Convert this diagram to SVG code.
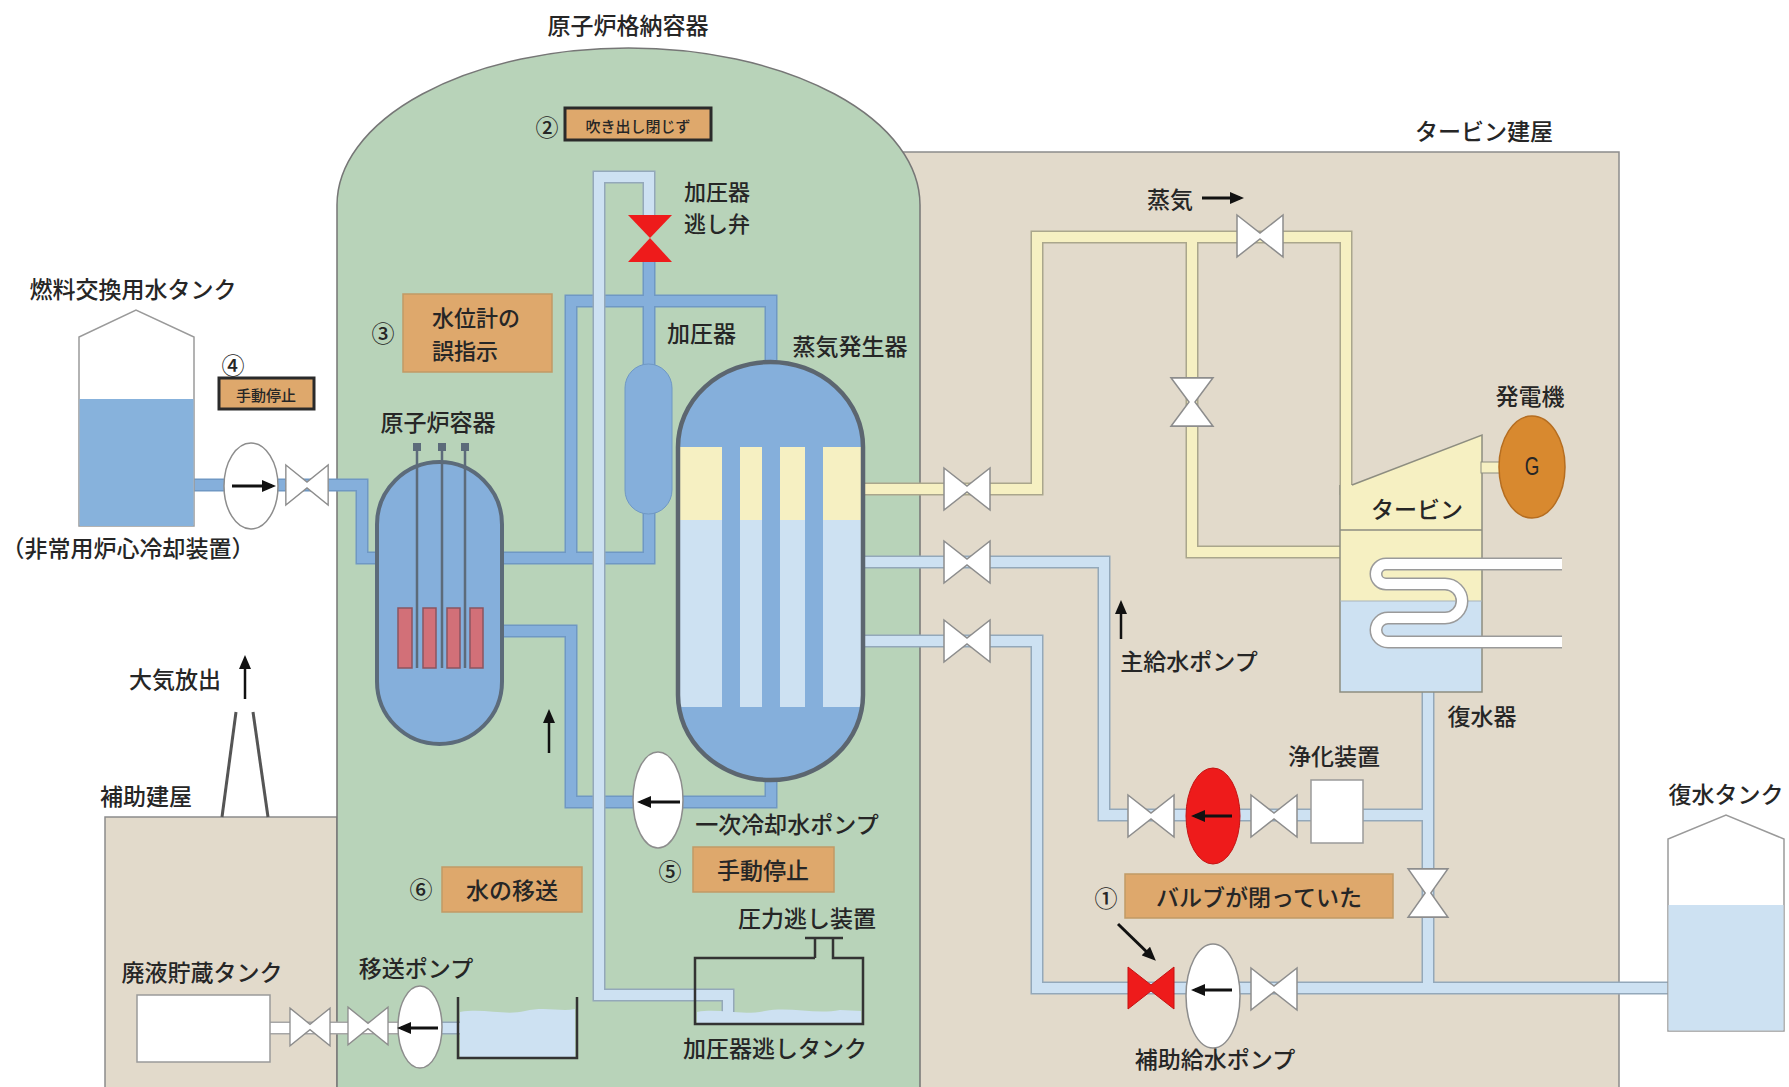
<svg xmlns="http://www.w3.org/2000/svg" width="1789" height="1087" viewBox="0 0 1789 1087">
<defs>
<style>
.t{font-family:"Noto Sans CJK JP","Noto Sans CJK SC",sans-serif;font-size:23px;font-weight:500;fill:#262626;text-anchor:middle;dominant-baseline:central}
.ts{font-size:15px}
.tm{font-size:22px}
.tl{text-anchor:start}
.bldg{fill:#e2dacb;stroke:#8c8c8c;stroke-width:1.5}
.box{fill:#dea86c;stroke:#c19a66;stroke-width:1.5}
.boxd{fill:#dea86c;stroke:#2a2a2a;stroke-width:3}
.po{fill:none;stroke-width:13}
.pf{fill:none;stroke-width:10}
.mb-o{stroke:#6f98c4}.mb{stroke:#85afdb}
.lb-o{stroke:#93a8ba}.lb{stroke:#cde1f2}
.yl-o{stroke:#aaa68c}.yl{stroke:#f6f0c2}
.wh-o{stroke:#a6a6a6}.wh{stroke:#ffffff}
.valve{fill:#fff;stroke:#8d8d8d;stroke-width:1.5}
.valve-red{fill:#ee1b1b;stroke:#c41212;stroke-width:1}
.pump{fill:#fff;stroke:#8d8d8d;stroke-width:1.5}
.arr{stroke:#111;stroke-width:3;fill:none;marker-end:url(#ah)}
.arr2{stroke:#111;stroke-width:2.5;fill:none;marker-end:url(#ah)}
.wall{fill:none;stroke:#333;stroke-width:2.5}
</style>
<marker id="ah" markerUnits="userSpaceOnUse" viewBox="0 0 14 12" refX="10" refY="6" markerWidth="14" markerHeight="12" orient="auto"><path d="M0,0 L14,6 L0,12 z" fill="#111"/></marker>
<polygon id="valveShape" points="-23,-21 0,-3 23,-21 23,21 0,3 -23,21"/>
<clipPath id="sgClip"><path d="M678,447 A92.5,85 0 0 1 863,447 V695 A92.5,85 0 0 1 678,695 Z"/></clipPath>
</defs>

<rect width="1789" height="1087" fill="#ffffff"/>

<!-- buildings -->
<g id="turbine-building">
<rect class="bldg" x="880" y="152" width="739" height="945"/>
<text class="t" x="1484" y="130">タービン建屋</text>
</g>
<g id="auxiliary-building">
<rect class="bldg" x="105" y="817" width="232" height="280"/>
<line x1="222" y1="817" x2="236" y2="712" stroke="#555" stroke-width="3"/>
<line x1="268" y1="817" x2="253" y2="712" stroke="#555" stroke-width="3"/>
<text class="t" x="146" y="795">補助建屋</text>
<text class="t" x="175" y="678">大気放出</text>
<path class="arr2" d="M245,699 V659"/>
</g>
<g id="containment">
<path d="M337,1097 V205 A291.5,157 0 0 1 920,205 V1097 Z" fill="#b8d3b9" stroke="#767676" stroke-width="1.5"/>
<text class="t" x="628" y="24">原子炉格納容器</text>
</g>

<!-- piping -->
<g id="connectors">
<g class="mb-o">
<path class="po" d="M192,485 H362 V558 H400"/>
<path class="po" d="M480,558 H649 V500"/>
<path class="po" d="M571,558 V301 H771 V390"/>
<path class="po" d="M480,631 H571 V802 H771 V760"/>
<path class="po" d="M649,380 V250"/>
</g>
<g class="mb">
<path class="pf" d="M192,485 H362 V558 H400"/>
<path class="pf" d="M480,558 H649 V500"/>
<path class="pf" d="M571,558 V301 H771 V390"/>
<path class="pf" d="M480,631 H571 V802 H771 V760"/>
<path class="pf" d="M649,380 V250"/>
</g>
<g class="lb-o">
<path class="po" d="M649,225 V177 H599 V995 H728 V1018"/>
<path class="po" d="M860,562 H1104 V815 H1428"/>
<path class="po" d="M1428,680 V988"/>
<path class="po" d="M1668,988 H1037 V641 H860"/>
<path class="po" d="M420,1028 H470"/>
</g>
<g class="lb">
<path class="pf" d="M649,225 V177 H599 V995 H728 V1018"/>
<path class="pf" d="M860,562 H1104 V815 H1428"/>
<path class="pf" d="M1428,680 V988"/>
<path class="pf" d="M1668,988 H1037 V641 H860"/>
<path class="pf" d="M420,1028 H470"/>
</g>
<g class="yl-o">
<path class="po" d="M860,489 H1037 V237 H1346 V495"/>
<path class="po" d="M1192,237 V552 H1348"/>
</g>
<g class="yl">
<path class="pf" d="M860,489 H1037 V237 H1346 V495"/>
<path class="pf" d="M1192,237 V552 H1348"/>
</g>
<path class="po wh-o" d="M268,1028 H420"/>
<path class="pf wh" d="M268,1028 H420"/>
</g>

<!-- refuelling water tank (ECCS) -->
<g id="refuel-tank">
<path d="M79,526 V337 L136,310 L194,337 V526 Z" fill="#fff" stroke="#9a9a9a" stroke-width="1.5"/>
<rect x="79.5" y="399" width="114" height="127" fill="#87b2dc"/>
<text class="t" x="133" y="288">燃料交換用水タンク</text>
<text class="t" x="128" y="547">（非常用炉心冷却装置）</text>
</g>
<g id="eccs-pump">
<ellipse class="pump" cx="251" cy="486" rx="27" ry="43"/>
<path class="arr" d="M232,486 H272"/>
</g>
<g id="eccs-valve"><use href="#valveShape" class="valve" transform="translate(307,485) scale(0.92,0.95)"/></g>
<g id="note-4">
<text class="t" x="233" y="364">④</text>
<rect class="boxd" x="219" y="378" width="95" height="31"/>
<text class="t ts" x="266" y="394">手動停止</text>
</g>

<!-- reactor vessel -->
<g id="reactor-vessel">
<path d="M377,524.5 A62.5,62.5 0 0 1 502,524.5 V681.5 A62.5,62.5 0 0 1 377,681.5 Z" fill="#85afdb" stroke="#5c6b7a" stroke-width="4"/>
<g fill="#d27078" stroke="#8a5560" stroke-width="1.5">
<rect x="398" y="608" width="14" height="60"/>
<rect x="423" y="608" width="13" height="60"/>
<rect x="447" y="608" width="13" height="60"/>
<rect x="470" y="608" width="13" height="60"/>
</g>
<g stroke="#5c6b7a" stroke-width="2.5">
<line x1="417" y1="447" x2="417" y2="668"/>
<line x1="442" y1="447" x2="442" y2="668"/>
<line x1="465" y1="447" x2="465" y2="668"/>
</g>
<g fill="#5c6b7a">
<rect x="413" y="443" width="8" height="8"/>
<rect x="438" y="443" width="8" height="8"/>
<rect x="461" y="443" width="8" height="8"/>
</g>
<text class="t" x="438" y="421">原子炉容器</text>
</g>

<!-- pressurizer and relief valve -->
<g id="pressurizer">
<path d="M625,388 A23.5,24 0 0 1 672,388 V490 A23.5,24 0 0 1 625,490 Z" fill="#85afdb" stroke="#6f98c4" stroke-width="1"/>
<text class="t tl" x="667" y="332">加圧器</text>
</g>
<g id="relief-valve">
<polygon points="628,215 672,215 650,238" fill="#ee1b1b"/>
<polygon points="628,262 672,262 650,238" fill="#ee1b1b"/>
<text class="t tm tl" x="684" y="190">加圧器</text>
<text class="t tm tl" x="684" y="222">逃し弁</text>
</g>
<g id="note-2">
<text class="t" x="547" y="126">②</text>
<rect class="boxd" x="565" y="108" width="146" height="32"/>
<text class="t ts" x="638" y="125">吹き出し閉じず</text>
</g>
<g id="note-3">
<text class="t" x="383" y="332">③</text>
<rect class="box" x="403" y="294" width="149" height="78"/>
<text class="t tm tl" x="432" y="316">水位計の</text>
<text class="t tm tl" x="432" y="349">誤指示</text>
</g>

<!-- steam generator -->
<g id="steam-generator">
<g clip-path="url(#sgClip)">
<rect x="675" y="355" width="195" height="92" fill="#85afdb"/>
<rect x="675" y="447" width="195" height="73" fill="#f6f0c2"/>
<rect x="675" y="520" width="195" height="187" fill="#cde1f2"/>
<rect x="675" y="707" width="195" height="80" fill="#85afdb"/>
<rect x="722" y="447" width="18" height="260" fill="#85afdb"/>
<rect x="762" y="447" width="18" height="260" fill="#85afdb"/>
<rect x="805" y="447" width="18" height="260" fill="#85afdb"/>
</g>
<path d="M678,447 A92.5,85 0 0 1 863,447 V695 A92.5,85 0 0 1 678,695 Z" fill="none" stroke="#5c6670" stroke-width="4.5"/>
<text class="t" x="850" y="345">蒸気発生器</text>
</g>

<g id="primary-pump">
<ellipse class="pump" cx="658" cy="800" rx="25" ry="48"/>
<path class="arr" d="M680,802 H641"/>
<path class="arr2" d="M549,753 V713"/>
<text class="t" x="787" y="823">一次冷却水ポンプ</text>
</g>
<g id="note-5">
<text class="t" x="670" y="870">⑤</text>
<rect class="box" x="693" y="847" width="141" height="45"/>
<text class="t" x="763" y="869">手動停止</text>
</g>
<g id="note-6">
<text class="t" x="421" y="888">⑥</text>
<rect class="box" x="442" y="867" width="140" height="45"/>
<text class="t" x="512" y="889">水の移送</text>
</g>

<!-- pressurizer relief tank -->
<g id="relief-tank">
<path d="M697,1012 C720,1008 740,1016 765,1011 C790,1006 815,1015 840,1010 L861,1011 V1023 H697 Z" fill="#cde1f2"/>
<path class="wall" d="M815,958 H695 V1024 H863 V958 H833 V938 M815,958 V938 M805,938 H843"/>
<text class="t" x="807" y="917">圧力逃し装置</text>
<text class="t" x="775" y="1047">加圧器逃しタンク</text>
</g>

<!-- transfer system -->
<g id="sump-tank">
<path d="M460,1012 C485,1008 505,1016 525,1011 C545,1006 560,1012 575,1009 V1057 H460 Z" fill="#cde1f2"/>
<path class="wall" d="M458,997 V1058 H577 V997"/>
</g>
<g id="transfer-pump">
<ellipse class="pump" cx="420" cy="1027" rx="22" ry="41"/>
<path class="arr" d="M438,1028 H401"/>
<text class="t" x="416" y="967">移送ポンプ</text>
</g>
<g id="waste-valves">
<use href="#valveShape" class="valve" transform="translate(368,1026) scale(0.87,0.9)"/>
<use href="#valveShape" class="valve" transform="translate(310,1027) scale(0.87,0.9)"/>
</g>
<g id="waste-tank">
<rect x="137" y="995" width="133" height="67" fill="#fff" stroke="#9a9a9a" stroke-width="1.5"/>
<text class="t" x="202" y="971">廃液貯蔵タンク</text>
</g>

<!-- secondary side valves -->
<g id="sg-valves">
<use href="#valveShape" class="valve" transform="translate(967,489)"/>
<use href="#valveShape" class="valve" transform="translate(967,562)"/>
<use href="#valveShape" class="valve" transform="translate(967,641)"/>
</g>
<g id="steam-valves">
<use href="#valveShape" class="valve" transform="translate(1260,236)"/>
<use href="#valveShape" class="valve" transform="translate(1192,402) rotate(90) scale(1.05,1)"/>
<text class="t" x="1170" y="198">蒸気</text>
<path class="arr" d="M1202,198 H1240"/>
</g>

<!-- turbine, condenser, generator -->
<g id="turbine">
<polygon points="1340,485 1352,485 1482,435 1482,692 1340,692" fill="#f6f0c2"/>
<rect x="1340" y="601" width="142" height="91" fill="#cde1f2"/>
<path d="M1352,485 L1482,435 V692 H1340 V485" fill="none" stroke="#8d8d80" stroke-width="1.5"/>
<line x1="1340" y1="530" x2="1482" y2="530" stroke="#8d8d80" stroke-width="1.5"/>
<line x1="1340" y1="601" x2="1482" y2="601" stroke="#a9b4bc" stroke-width="1"/>
<path d="M1562,564 H1386 A10,10 0 0 0 1386,584 H1445 A17,17 0 0 1 1445,618 H1388 A12,12 0 0 0 1388,642 H1562" fill="none" stroke="#9a9a9a" stroke-width="13"/>
<path d="M1562,564 H1386 A10,10 0 0 0 1386,584 H1445 A17,17 0 0 1 1445,618 H1388 A12,12 0 0 0 1388,642 H1562" fill="none" stroke="#ffffff" stroke-width="10"/>
<text class="t" x="1417" y="508">タービン</text>
<text class="t" x="1482" y="715">復水器</text>
</g>
<g id="generator">
<rect x="1481" y="462" width="22" height="11" fill="#f6f0c2" stroke="#8d8d80" stroke-width="1"/>
<ellipse cx="1532" cy="467" rx="33" ry="51" fill="#d8892f" stroke="#b56d20" stroke-width="1.5"/>
<text class="t" x="1532" y="467" style="font-family:'Liberation Sans',sans-serif;font-size:25px" transform="translate(1532,467) scale(0.75,1) translate(-1532,-467)">G</text>
<text class="t" x="1530" y="395">発電機</text>
</g>

<!-- feedwater system -->
<g id="main-feed-pump">
<use href="#valveShape" class="valve" transform="translate(1151,816)"/>
<ellipse cx="1213" cy="816" rx="27" ry="48" fill="#ee1b1b" stroke="#c41212" stroke-width="1"/>
<path class="arr" d="M1232,816 H1195"/>
<use href="#valveShape" class="valve" transform="translate(1274,816)"/>
<path class="arr2" d="M1121,639 V604"/>
<text class="t" x="1189" y="660">主給水ポンプ</text>
</g>
<g id="purifier">
<rect x="1311" y="780" width="52" height="63" fill="#fff" stroke="#9a9a9a" stroke-width="1.5"/>
<text class="t" x="1334" y="755">浄化装置</text>
</g>
<g id="condensate-valve">
<use href="#valveShape" class="valve" transform="translate(1428,893) rotate(90) scale(1.05,0.95)"/>
</g>
<g id="aux-feed-pump">
<use href="#valveShape" class="valve-red" transform="translate(1151,988)"/>
<ellipse class="pump" cx="1213" cy="996" rx="27" ry="52"/>
<path class="arr" d="M1232,990 H1195"/>
<use href="#valveShape" class="valve" transform="translate(1274,989)"/>
<text class="t" x="1215" y="1058">補助給水ポンプ</text>
</g>
<g id="note-1">
<text class="t" x="1106" y="897">①</text>
<rect class="box" x="1125" y="874" width="268" height="44"/>
<text class="t" x="1259" y="896">バルブが閉っていた</text>
<path class="arr" d="M1118,924 L1153,958"/>
</g>
<g id="condensate-tank">
<path d="M1668,1031 V839 L1726,815 L1784,839 V1031 Z" fill="#fff" stroke="#9a9a9a" stroke-width="1.5"/>
<rect x="1668.5" y="905" width="115" height="125.5" fill="#cde1f2"/>
<text class="t" x="1726" y="793">復水タンク</text>
</g>
</svg>
